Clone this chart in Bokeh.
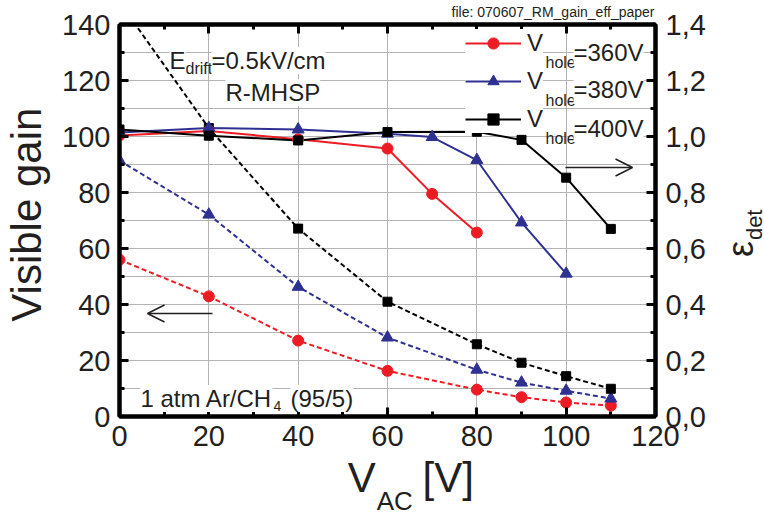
import math
from bokeh.plotting import figure
from bokeh.models import (Range1d, LinearAxis, SingleIntervalTicker, FixedTicker,
                          CustomJSTickFormatter, CustomLabelingPolicy,
                          Label, Arrow, OpenHead, Legend, LegendItem)
from bokeh.embed import file_html
from bokeh.resources import INLINE

# ---------------- data ----------------
# Visible gain (left axis), dashed fits
gain_x = [0, 20, 40, 60, 80, 90, 100, 110]
gain_360 = [56, 42.9, 27.1, 16.3, 9.6, 6.9, 5.0, 3.9]
gain_380 = [91.4, 72.1, 46.3, 28.2, 16.7, 12.1, 9.2, 6.4]
gain_400 = [148, 103, 67.1, 41.0, 25.8, 19.2, 14.4, 9.9]

# Detection efficiency (right axis), solid fits
eff_x_360 = [0, 20, 40, 60, 70, 80]
eff_360 = [1.004, 1.02, 0.99, 0.957, 0.795, 0.657]
eff_x_380 = [0, 20, 40, 60, 70, 80, 90, 100]
eff_380 = [1.014, 1.03, 1.025, 1.01, 0.998, 0.916, 0.693, 0.51]
eff_x_400 = [0, 20, 40, 60, 80, 90, 100, 110]
eff_400 = [1.025, 1.003, 0.986, 1.016, 1.017, 0.988, 0.853, 0.67]

right_ticks = [0.0, 0.2, 0.4, 0.6, 0.8, 1.0, 1.2, 1.4]
right_minor = [0.1, 0.3, 0.5, 0.7, 0.9, 1.1, 1.3]
legend_labels = ["=360V", "=380V", "=400V"]

RED = "#ed1c24"
BLUE = "#2e3192"
BLACK = "#000000"
TXT = "#231f20"
FONT = "Liberation Sans"
NB = "\u00a0"

p = figure(frame_width=536, frame_height=392,
           min_border_left=117, min_border_right=111,
           min_border_top=24, min_border_bottom=101,
           x_range=Range1d(0, 120), y_range=Range1d(0, 140),
           title="file: 070607_RM_gain_eff_paper",
           output_backend="svg", toolbar_location=None)
p.background_fill_color = "white"
p.border_fill_color = "white"
p.outline_line_color = "black"
p.outline_line_width = 4

p.title.align = "right"
p.title.text_font = FONT
p.title.text_font_size = "14px"
p.title.text_font_style = "normal"
p.title.text_color = TXT
p.title.standoff = 2
p.title.offset = 1

p.extra_y_ranges = {"eff": Range1d(0, 1.4)}

# axes
bottom = p.below[0]
left = p.left[0]
bottom.ticker = SingleIntervalTicker(interval=20, num_minor_ticks=2)
left.ticker = SingleIntervalTicker(interval=20, num_minor_ticks=2)
right = LinearAxis(y_range_name="eff",
                   ticker=FixedTicker(ticks=right_ticks, minor_ticks=right_minor),
                   formatter=CustomJSTickFormatter(code="return tick.toFixed(1).replace('.', ',');"))
p.add_layout(right, "right")
top = LinearAxis(ticker=SingleIntervalTicker(interval=20, num_minor_ticks=2))
top.major_label_text_font_size = "1px"
top.major_label_standoff = 0
top.major_label_policy = CustomLabelingPolicy(
    code="try { for (const i of Array.from(indices)) { indices.unset(i) } } catch (e) {} return indices")
p.add_layout(top, "above")

for ax in [bottom, left, right, top]:
    ax.axis_line_width = 4
    ax.axis_line_color = "black"
    ax.major_tick_line_width = 3
    ax.minor_tick_line_width = 3
    ax.major_tick_in = 9
    ax.major_tick_out = 0
    ax.minor_tick_in = 5
    ax.minor_tick_out = 0
    ax.major_label_text_font = FONT
    ax.major_label_text_color = TXT
for ax in [bottom, left, right]:
    ax.major_label_text_font_size = "29px"
    ax.major_label_standoff = 9
right.major_label_standoff = 10

# axis titles
left.axis_label = NB + "Visible gain"
left.axis_label_text_font = FONT
left.axis_label_text_font_size = "42px"
left.axis_label_text_font_style = "normal"
left.axis_label_text_color = TXT
left.axis_label_standoff = 9

bottom.axis_label = NB * 4 + "V" + NB * 4 + "[V]"
bottom.axis_label_text_font = FONT
bottom.axis_label_text_font_size = "42px"
bottom.axis_label_text_font_style = "normal"
bottom.axis_label_text_color = TXT
bottom.axis_label_standoff = 5


def sub_axis(text, size, standoff, side):
    ax = LinearAxis(ticker=FixedTicker(ticks=[]), axis_line_color=None,
                    major_tick_line_color=None, minor_tick_line_color=None,
                    major_label_text_font_size="1px", axis_label=text,
                    axis_label_text_font=FONT, axis_label_text_font_size=f"{size}px",
                    axis_label_text_font_style="normal", axis_label_text_color=TXT,
                    axis_label_standoff=standoff)
    p.add_layout(ax, side)


sub_axis(NB * 2 + "AC", 26, -18, "below")


# right title "eps_det": rotated tick labels of two bare axes on the efficiency scale
def side_text(js_text, at, size, standoff):
    ax = LinearAxis(y_range_name="eff", ticker=FixedTicker(ticks=[at], minor_ticks=[]),
                    formatter=CustomJSTickFormatter(code=f"return '{js_text}';"),
                    axis_line_color=None, major_tick_line_color=None,
                    minor_tick_line_color=None, major_tick_in=0, major_tick_out=0,
                    minor_tick_in=0, minor_tick_out=0,
                    major_label_orientation=math.pi / 2,
                    major_label_text_font=FONT, major_label_text_font_size=f"{size}px",
                    major_label_text_color=TXT, major_label_standoff=standoff)
    p.add_layout(ax, "right")


side_text("det", 0.63, 22, 46)
side_text("\\u03b5", 0.57, 36, -42)

p.xgrid.ticker = SingleIntervalTicker(interval=20)
p.ygrid.ticker = SingleIntervalTicker(interval=10)
p.xgrid.grid_line_color = "#b4b4b4"
p.ygrid.grid_line_color = "#b4b4b4"
p.xgrid.grid_line_width = 1
p.ygrid.grid_line_width = 1

# gain dashed lines
for ys, c in [(gain_360, RED), (gain_380, BLUE), (gain_400, BLACK)]:
    p.line(gain_x, ys, line_color=c, line_width=2, line_dash="5 3")

# efficiency solid lines
l360 = p.line(eff_x_360, eff_360, line_color=RED, line_width=2, y_range_name="eff")
l380 = p.line(eff_x_380, eff_380, line_color=BLUE, line_width=2, y_range_name="eff")
l400 = p.line(eff_x_400, eff_400, line_color=BLACK, line_width=2, y_range_name="eff")

# markers
p.scatter(gain_x, gain_360, marker="circle", size=11, color=RED)
p.scatter(gain_x, gain_380, marker="triangle", size=12, color=BLUE)
p.scatter(gain_x, gain_400, marker="square", size=9, color=BLACK)
s360 = p.scatter(eff_x_360, eff_360, marker="circle", size=11, color=RED, y_range_name="eff")
s380 = p.scatter(eff_x_380, eff_380, marker="triangle", size=12, color=BLUE, y_range_name="eff")
s400 = p.scatter(eff_x_400, eff_400, marker="square", size=9, color=BLACK, y_range_name="eff")

legend = Legend(items=[LegendItem(label="V", renderers=[l360, s360]),
                       LegendItem(label="V", renderers=[l380, s380]),
                       LegendItem(label="V", renderers=[l400, s400])],
                location=(346, 283), glyph_width=56, glyph_height=28, label_height=28,
                spacing=10, padding=0, margin=0, border_line_color=None,
                background_fill_color="white", background_fill_alpha=1,
                label_text_font=FONT, label_text_font_size="24px", label_text_color=TXT,
                label_standoff=6, label_width=10)
p.add_layout(legend)


def lab(txt, x, y, size, align="left", bg=False):
    p.add_layout(Label(x=x, y=y, x_units="screen", y_units="screen", text=txt,
                       text_font=FONT, text_font_size=f"{size}px", text_color=TXT,
                       text_align=align, text_baseline="alphabetic",
                       background_fill_color="white" if bg else None))


# legend texts
for lbl, yb, ys in zip(legend_labels, [364, 327, 288], [354, 316, 278]):
    lab("hole", 426, ys, 16)
    lab(lbl, 454, yb, 24, bg=True)

# annotations
lab("drift", 66, 348, 16)
lab("E", 50, 356, 24, bg=True)
lab("=0.5kV/cm", 92, 356, 24, bg=True)
lab("R-MHSP", 106, 324, 24, bg=True)
lab("4", 154, 11, 14)
lab("1 atm Ar/CH", 21, 18, 24, bg=True)
lab("(95/5)", 171, 18, 24, bg=True)

# arrows
p.add_layout(Arrow(end=OpenHead(size=17, line_width=1.5, line_color=TXT),
                   x_start=93, y_start=103, x_end=28, y_end=103,
                   start_units="screen", end_units="screen", line_width=1.5, line_color=TXT))
p.add_layout(Arrow(end=OpenHead(size=17, line_width=1.5, line_color=TXT),
                   x_start=446, y_start=249, x_end=513, y_end=249,
                   start_units="screen", end_units="screen", line_width=1.5, line_color=TXT))

open("out.html", "w").write(file_html(p, INLINE))
